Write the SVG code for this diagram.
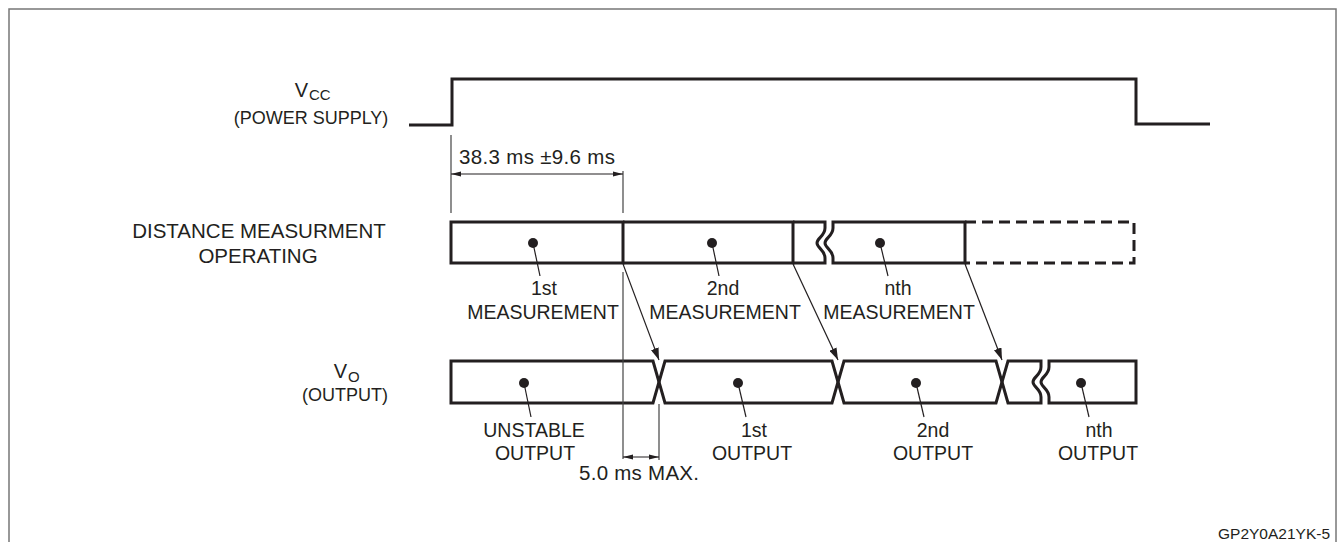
<svg xmlns="http://www.w3.org/2000/svg" width="1338" height="542" viewBox="0 0 1338 542">
<defs>
<style>
text{font-family:"Liberation Sans",Arial,sans-serif;fill:#231f20;font-size:19.5px}
.lbl{text-anchor:middle}
.small{font-size:18px}
.sub{font-size:15px}
.num{font-size:20.5px}
.bar{fill:none;stroke:#231f20;stroke-width:3;stroke-linejoin:miter}
.dash{fill:none;stroke:#231f20;stroke-width:3;stroke-dasharray:11 6}
.thin{fill:none;stroke:#231f20;stroke-width:1.2}
.ext{fill:none;stroke:#444;stroke-width:1.2}
.dot{fill:#231f20}
</style>
<marker id="ah" viewBox="0 0 12 8" refX="12" refY="4" markerWidth="12" markerHeight="8" markerUnits="userSpaceOnUse" orient="auto">
<path d="M0,0 L12,4 L0,8 Z" fill="#231f20"/>
</marker>
<marker id="dh" viewBox="0 0 10 6" refX="10" refY="3" markerWidth="10" markerHeight="6" markerUnits="userSpaceOnUse" orient="auto-start-reverse">
<path d="M0,0.5 L10,3 L0,5.5 Z" fill="#231f20"/>
</marker>
</defs>
<rect x="9" y="9" width="1327" height="540" fill="#fff" stroke="#777" stroke-width="1.5"/>

<g id="vcc">
<path class="bar" d="M409,125 L452,125 L452,79 L1136,79 L1136,124 L1210,124"/>
<text x="308" y="97" text-anchor="end" style="font-size:20px">V</text>
<text x="309" y="100" class="sub">CC</text>
<text x="311" y="124" class="lbl small">(POWER SUPPLY)</text>
</g>

<g id="dm-label">
<text x="259" y="238" class="lbl" style="font-size:20.5px">DISTANCE MEASURMENT</text>
<text x="258" y="263" class="lbl" style="font-size:20.5px">OPERATING</text>
</g>

<g id="meas1">
<path class="bar" d="M623,222 L451,222 L451,263 L623,263 Z"/>
<circle class="dot" cx="533" cy="243" r="5"/>
<line class="thin" x1="533" y1="243" x2="540" y2="276"/>
<text x="544" y="295" class="lbl">1st</text>
<text x="543" y="319" class="lbl">MEASUREMENT</text>
</g>
<g id="meas2">
<path class="bar" d="M623,222 L793,222 L793,263 L623,263"/>
<circle class="dot" cx="712" cy="243" r="5"/>
<line class="thin" x1="712" y1="243" x2="719" y2="276"/>
<text x="723" y="295" class="lbl">2nd</text>
<text x="725" y="319" class="lbl">MEASUREMENT</text>
</g>
<g id="meas-break">
<path class="bar" d="M793,222 L825,222 L825,228 C825,236 817,238 817,243 C817,248 825,250 825,258 L825,263 L793,263"/>
</g>
<g id="measn">
<path class="bar" d="M965,222 L833,222 L833,228 C833,236 825,238 825,243 C825,248 833,250 833,258 L833,263 L965,263 Z"/>
<circle class="dot" cx="880" cy="243" r="5"/>
<line class="thin" x1="880" y1="243" x2="888" y2="276"/>
<text x="898" y="295" class="lbl">nth</text>
<text x="899" y="319" class="lbl">MEASUREMENT</text>
</g>
<g id="meas-next">
<path class="dash" d="M965,222 L1134,222 L1134,263 L965,263"/>
</g>

<g id="vo-label">
<text x="347" y="378" text-anchor="end" style="font-size:20px">V</text>
<text x="348" y="382" class="sub">O</text>
<text x="345" y="401" class="lbl small">(OUTPUT)</text>
</g>

<g id="out0">
<path class="bar" d="M653,361 L451,361 L451,403 L653,403 L659,382 Z"/>
<circle class="dot" cx="524" cy="383" r="5"/>
<line class="thin" x1="524" y1="383" x2="531" y2="417"/>
<text x="534" y="437" class="lbl">UNSTABLE</text>
<text x="535" y="460" class="lbl">OUTPUT</text>
</g>
<g id="out1">
<path class="bar" d="M659,382 L665,361 L832,361 L838,382 L832,403 L665,403 Z"/>
<circle class="dot" cx="738" cy="383" r="5"/>
<line class="thin" x1="738" y1="383" x2="746" y2="417"/>
<text x="754" y="437" class="lbl">1st</text>
<text x="752" y="460" class="lbl">OUTPUT</text>
</g>
<g id="out2">
<path class="bar" d="M838,382 L844,361 L996,361 L1002,382 L996,403 L844,403 Z"/>
<circle class="dot" cx="916" cy="383" r="5"/>
<line class="thin" x1="916" y1="383" x2="924" y2="417"/>
<text x="933" y="437" class="lbl">2nd</text>
<text x="933" y="460" class="lbl">OUTPUT</text>
</g>
<g id="out-break">
<path class="bar" d="M1002,382 L1008,361 L1041,361 L1041,367 C1041,375 1033,377 1033,382 C1033,387 1041,389 1041,397 L1041,403 L1008,403 Z"/>
</g>
<g id="outn">
<path class="bar" d="M1049,361 L1136,361 L1136,403 L1049,403 L1049,397 C1049,389 1041,387 1041,382 C1041,377 1049,375 1049,367 Z"/>
<circle class="dot" cx="1081" cy="383" r="5"/>
<line class="thin" x1="1081" y1="383" x2="1089" y2="417"/>
<text x="1099" y="437" class="lbl">nth</text>
<text x="1098" y="460" class="lbl">OUTPUT</text>
</g>

<g id="connectors">
<line class="ext" x1="451" y1="135" x2="451" y2="213"/>
<line class="ext" x1="623" y1="171" x2="623" y2="213"/>
<line class="thin" x1="451" y1="174" x2="623" y2="174" marker-start="url(#dh)" marker-end="url(#dh)"/>
<line class="ext" x1="623" y1="272" x2="623" y2="459"/>
<line class="ext" x1="659" y1="404" x2="659" y2="460"/>
<line class="thin" x1="623" y1="457" x2="659" y2="457" marker-start="url(#dh)" marker-end="url(#dh)"/>
<line class="thin" x1="623" y1="264" x2="659" y2="360" marker-end="url(#ah)"/>
<line class="thin" x1="793" y1="264" x2="838" y2="360" marker-end="url(#ah)"/>
<line class="thin" x1="965" y1="264" x2="1002" y2="360" marker-end="url(#ah)"/>
</g>

<g id="dims">
<text x="459" y="164" class="num" textLength="156">38.3 ms ±9.6 ms</text>
<text x="579" y="480" class="num" textLength="120">5.0 ms MAX.</text>
</g>

<text x="1330" y="539" text-anchor="end" style="font-size:15.5px">GP2Y0A21YK-5</text>
</svg>
